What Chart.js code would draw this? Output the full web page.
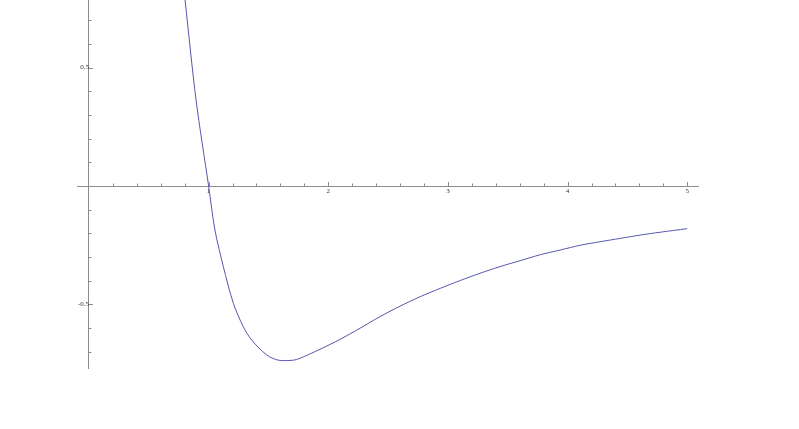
<!DOCTYPE html>
<html>
<head>
<meta charset="utf-8">
<script src="https://cdn.jsdelivr.net/npm/chart.js@4/dist/chart.umd.min.js"></script>
<style>
  html, body { margin: 0; padding: 0; background: #fff; }
  #wrap { width: 799px; height: 429px; position: relative; }
</style>
</head>
<body>
<div id="wrap"><canvas id="plot"></canvas></div>
<script>
// values
var xValues = [0.803, 0.895, 1.0, 1.053, 1.123, 1.207, 1.29, 1.36, 1.486, 1.583, 1.709,
  1.764, 1.931, 2.099, 2.266, 2.433, 2.6, 2.768, 2.935, 3.102, 3.269, 3.436, 3.604,
  3.771, 3.94, 4.105, 4.273, 4.44, 4.607, 4.774, 5.0];
var yValues = [0.785, 0.363, 0, -0.186, -0.340, -0.495, -0.594, -0.650, -0.713, -0.735, -0.735,
  -0.727, -0.689, -0.647, -0.600, -0.551, -0.507, -0.467, -0.432, -0.399, -0.368, -0.340, -0.315,
  -0.290, -0.270, -0.250, -0.235, -0.221, -0.207, -0.195, -0.180];
var xLabels = [1, 2, 3, 4, 5];
var yLabels = [-0.5, 0.5];

var points = xValues.map(function (x, i) { return { x: x, y: yValues[i] }; });

var axisColor = '#8c8c8c';

function isLabel(list, v) {
  return list.some(function (l) { return Math.abs(l - v) < 1e-6; });
}

// mathematica style tick marks, drawn on the positive side of each axis
var tickMarks = {
  id: 'tickMarks',
  afterDraw: function (chart) {
    var ctx = chart.ctx, sx = chart.scales.x, sy = chart.scales.y;
    var x0 = sx.getPixelForValue(0), y0 = sy.getPixelForValue(0);
    ctx.save();
    ctx.strokeStyle = axisColor;
    ctx.lineWidth = 1;
    ctx.beginPath();
    sx.ticks.forEach(function (t) {
      if (Math.abs(t.value) < 1e-6) return;
      var px = Math.round(sx.getPixelForValue(t.value)) + 0.5;
      var len = isLabel(xLabels, t.value) ? 4 : 2.5;
      ctx.moveTo(px, y0);
      ctx.lineTo(px, y0 - len);
    });
    sy.ticks.forEach(function (t) {
      if (Math.abs(t.value) < 1e-6) return;
      var py = Math.round(sy.getPixelForValue(t.value)) + 0.5;
      var len = isLabel(yLabels, t.value) ? 4 : 2.5;
      ctx.moveTo(x0, py);
      ctx.lineTo(x0 + len, py);
    });
    ctx.stroke();
    ctx.restore();
  }
};

// labels sit inside the plot, so they need no room at the edges
function noEdgePadding(scale) {
  scale.paddingTop = 0;
  scale.paddingBottom = 0;
  scale.paddingLeft = 0;
  scale.paddingRight = 0;
}

new Chart(document.getElementById('plot'), {
  type: 'scatter',
  data: {
    datasets: [{
      data: points,
      showLine: true,
      borderColor: 'rgb(86,86,176)',
      borderWidth: 1,
      pointRadius: 0,
      tension: 0.3,
      fill: false
    }]
  },
  options: {
    responsive: true,
    maintainAspectRatio: false,
    animation: false,
    layout: { padding: { left: 77, right: 101, top: 0, bottom: 61 } },
    plugins: { legend: { display: false }, tooltip: { enabled: false } },
    scales: {
      x: {
        type: 'linear',
        position: { y: 0 },
        min: -0.1,
        max: 5.09,
        afterFit: noEdgePadding,
        grid: { display: false, drawTicks: false, tickLength: 0 },
        border: { display: true, color: axisColor, width: 1 },
        ticks: {
          stepSize: 0.2,
          includeBounds: false,
          autoSkip: false,
          maxRotation: 0,
          padding: 1,
          color: '#333',
          font: { family: 'Liberation Serif', size: 7 },
          callback: function (v) { return isLabel(xLabels, v) ? String(Math.round(v)) : ''; }
        }
      },
      y: {
        type: 'linear',
        position: { x: 0 },
        min: -0.768,
        max: 0.785,
        afterFit: noEdgePadding,
        grid: { display: false, drawTicks: false, tickLength: 0 },
        border: { display: true, color: axisColor, width: 1 },
        ticks: {
          stepSize: 0.1,
          includeBounds: false,
          autoSkip: false,
          padding: 3,
          color: '#333',
          font: { family: 'Liberation Serif', size: 7 },
          callback: function (v) { return isLabel(yLabels, v) ? (v < 0 ? '-0.5' : '0.5') : ''; }
        }
      }
    }
  },
  plugins: [tickMarks]
});
</script>
</body>
</html>
